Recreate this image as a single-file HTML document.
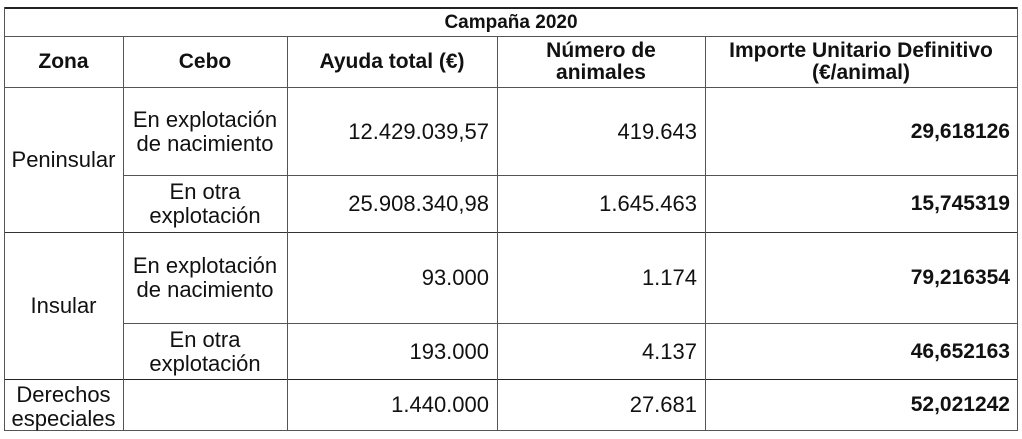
<!DOCTYPE html>
<html><head><meta charset="utf-8"><style>
body{margin:0;width:1022px;height:439px;background:#fff;position:relative;font-family:"Liberation Sans",Arial,sans-serif;color:#111;overflow:hidden}
.h{position:absolute;height:1px;background:#555}
.v{position:absolute;width:1px;background:#555}
.t{position:absolute;font-size:22px;line-height:24px;display:flex;align-items:center;justify-content:center;text-align:center}
.r{justify-content:flex-end;text-align:right}
b{font-weight:bold;font-size:21px}
</style></head><body>
<div class="h" style="left:4px;top:7px;width:1014px;height:2px;background:#222"></div>
<div class="h" style="left:4px;top:36px;width:1014px"></div>
<div class="h" style="left:4px;top:87px;width:1014px"></div>
<div class="h" style="left:123px;top:175px;width:895px"></div>
<div class="h" style="left:4px;top:232px;width:1014px;background:#333"></div>
<div class="h" style="left:123px;top:323px;width:895px"></div>
<div class="h" style="left:4px;top:379px;width:1014px;background:#222"></div>
<div class="h" style="left:4px;top:430px;width:1014px"></div>
<div class="v" style="left:4px;top:7px;height:424px"></div>
<div class="v" style="left:1017px;top:7px;height:424px"></div>
<div class="v" style="left:123px;top:36px;height:395px"></div>
<div class="v" style="left:287px;top:36px;height:395px"></div>
<div class="v" style="left:497px;top:36px;height:395px"></div>
<div class="v" style="left:705px;top:36px;height:395px"></div>

<div class="t" style="left:4px;top:9px;width:1014px;height:27px"><b style="font-size:19px">Campaña 2020</b></div>
<div class="t" style="left:4px;top:37px;width:119px;height:50px"><b>Zona</b></div>
<div class="t" style="left:123px;top:37px;width:164px;height:50px"><b>Cebo</b></div>
<div class="t" style="left:287px;top:37px;width:210px;height:50px"><b>Ayuda total (€)</b></div>
<div class="t" style="left:497px;top:37px;width:208px;height:50px;line-height:22px"><b>Número de<br>animales</b></div>
<div class="t" style="left:705px;top:37px;width:312px;height:50px;line-height:22px"><b>Importe Unitario Definitivo<br>(€/animal)</b></div>

<div class="t" style="left:4px;top:88px;width:119px;height:144px">Peninsular</div>
<div class="t" style="left:4px;top:233px;width:119px;height:146px">Insular</div>
<div class="t" style="left:4px;top:382px;width:119px;height:50px">Derechos<br>especiales</div>

<div class="t" style="left:123px;top:88px;width:164px;height:87px">En explotación<br>de nacimiento</div>
<div class="t" style="left:123px;top:176px;width:164px;height:56px">En otra<br>explotación</div>
<div class="t" style="left:123px;top:233px;width:164px;height:90px">En explotación<br>de nacimiento</div>
<div class="t" style="left:123px;top:324px;width:164px;height:55px">En otra<br>explotación</div>

<div class="t r" style="left:287px;top:88px;width:202px;height:87px">12.429.039,57</div>
<div class="t r" style="left:287px;top:176px;width:202px;height:56px">25.908.340,98</div>
<div class="t r" style="left:287px;top:233px;width:202px;height:90px">93.000</div>
<div class="t r" style="left:287px;top:324px;width:202px;height:55px">193.000</div>
<div class="t r" style="left:287px;top:380px;width:202px;height:50px">1.440.000</div>

<div class="t r" style="left:497px;top:88px;width:200px;height:87px">419.643</div>
<div class="t r" style="left:497px;top:176px;width:200px;height:56px">1.645.463</div>
<div class="t r" style="left:497px;top:233px;width:200px;height:90px">1.174</div>
<div class="t r" style="left:497px;top:324px;width:200px;height:55px">4.137</div>
<div class="t r" style="left:497px;top:380px;width:200px;height:50px">27.681</div>

<div class="t r" style="left:705px;top:88px;width:305px;height:87px"><b>29,618126</b></div>
<div class="t r" style="left:705px;top:176px;width:305px;height:56px"><b>15,745319</b></div>
<div class="t r" style="left:705px;top:233px;width:305px;height:90px"><b>79,216354</b></div>
<div class="t r" style="left:705px;top:324px;width:305px;height:55px"><b>46,652163</b></div>
<div class="t r" style="left:705px;top:380px;width:305px;height:50px"><b>52,021242</b></div>
</body></html>
